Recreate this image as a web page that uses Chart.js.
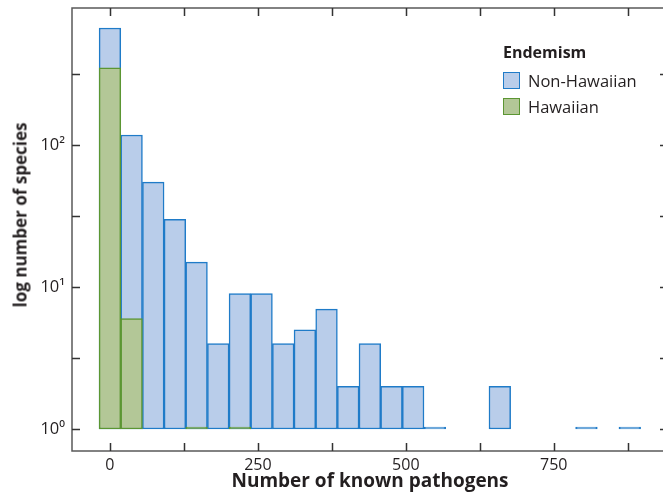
<!DOCTYPE html>
<html>
<head>
<meta charset="utf-8">
<script src="https://cdn.jsdelivr.net/npm/chart.js@4/dist/chart.umd.min.js"></script>
<style>
  html, body { margin: 0; padding: 0; background: #fff; overflow: hidden; width: 663px; height: 498px; }
  #wrap { position: relative; width: 663px; height: 498px; overflow: hidden; }
  canvas { position: absolute; left: 0; top: 0; }
  .lg { position: absolute; left: 503px; top: 41px; font-family: "Open Sans", sans-serif; color: #231f20; }
  .lg .t { font-weight: bold; font-size: 16px; line-height: 22px; margin-bottom: 4px; }
  .lg .row { display: flex; align-items: center; height: 26px; font-size: 16.5px; }
  .lg .sw { width: 15px; height: 15px; margin-right: 8px; box-sizing: content-box; }
  .ytitle { position: absolute; left: 20px; top: 215px; transform: translate(-50%, -50%) rotate(-90deg);
            font-family: "Open Sans", sans-serif; font-weight: bold; font-size: 17px; color: #231f20; white-space: nowrap; }
</style>
</head>
<body>
<div id="wrap">
  <canvas id="c" width="670" height="498"></canvas>
  <div class="ytitle" id="ytitle"></div>
  <div class="lg" id="legend"></div>
</div>
<script>
// ---- data ----
const binCenters      = [0, 36.6, 73.2, 109.8, 146.4, 183.0, 219.6, 256.2, 292.8, 329.4, 366.0, 402.6, 439.2, 475.8, 512.4, 549.0, 658.8, 805.2, 878.4];
const nonHawaiianCounts = [670, 118, 55, 30, 15, 4, 9, 9, 4, 5, 7, 2, 4, 2, 2, 1, 2, 1, 1];
const hawaiianCenters = [0, 36.6, 146.4, 219.6];
const hawaiianCounts  = [351, 6, 1, 1];
const seriesNames     = ["Non-Hawaiian", "Hawaiian"];
const legendTitle     = "Endemism";
const xTickValues     = [0, 250, 500, 750];
const xTickMarks      = [0, 125, 250, 375, 500, 625, 750, 875];
const yTickValues     = [1, 10, 100];
const yTickLabels     = ["10\u2070", "10\u00B9", "10\u00B2"];
const yTickMarks      = [1, 3.1623, 10, 31.623, 100, 316.23];
const xTitle          = "Number of known pathogens";
const yTitle          = "log number of species";

const blueFill = "#b9cdea", blueLine = "#1f7bc8";
const greenFill = "#b3c797", greenLine = "#5b9632";

const toPts = (xs, ys) => xs.map((x, i) => ({ x: x, y: [1, ys[i]] }));

const framePlugin = {
  id: "frame",
  afterDatasetsDraw(chart) {
    const { ctx, chartArea: a, scales } = chart;
    ctx.save();
    ctx.strokeStyle = "#595959";
    ctx.lineWidth = 1.5;
    ctx.beginPath();
    ctx.rect(a.left, a.top, a.right - a.left, a.bottom - a.top);
    ctx.stroke();
    ctx.strokeStyle = "#333";
    ctx.lineWidth = 1.5;
    const L = 8;
    ctx.beginPath();
    xTickMarks.forEach(v => {
      const p = Math.round(scales.x.getPixelForValue(v)) + 0.5;
      ctx.moveTo(p, a.bottom); ctx.lineTo(p, a.bottom - L);
      ctx.moveTo(p, a.top); ctx.lineTo(p, a.top + L);
    });
    yTickMarks.forEach(v => {
      const p = Math.round(scales.y.getPixelForValue(v)) + 0.5;
      ctx.moveTo(a.left, p); ctx.lineTo(a.left + L, p);
      ctx.moveTo(a.right, p); ctx.lineTo(a.right - L, p);
    });
    ctx.stroke();
    ctx.restore();
  }
};

new Chart(document.getElementById("c"), {
  type: "bar",
  data: {
    datasets: [
      { label: seriesNames[0], data: toPts(binCenters, nonHawaiianCounts), backgroundColor: blueFill, borderColor: blueLine, order: 1 },
      { label: seriesNames[1], data: toPts(hawaiianCenters, hawaiianCounts), backgroundColor: greenFill, borderColor: greenLine, order: 0 }
    ]
  },
  options: {
    responsive: false,
    animation: false,
    events: [],
    layout: { padding: { left: 0, right: 2, top: 0, bottom: 0 } },
    datasets: { bar: { barPercentage: 1, categoryPercentage: 1, grouped: false, borderWidth: 1.5, borderSkipped: false, minBarLength: 2 } },
    plugins: { legend: { display: false }, tooltip: { enabled: false } },
    scales: {
      x: {
        type: "linear",
        offset: false,
        min: -64.1, max: 943,
        grid: { display: false, drawTicks: false, offset: false },
        border: { display: false },
        afterBuildTicks: s => { s.ticks = xTickValues.map(v => ({ value: v })); },
        afterFit: s => { s.height = 47; },
        ticks: { padding: 5, color: "#231f20", font: { family: "Open Sans", size: 16 }, maxRotation: 0, callback: v => String(v) },
        title: { display: true, text: xTitle, color: "#231f20", font: { family: "Open Sans", size: 19, weight: "bold" }, padding: { top: 0, bottom: 5 } }
      },
      y: {
        type: "logarithmic",
        min: 0.7225, max: 927,
        grid: { display: false, drawTicks: false },
        border: { display: false },
        afterBuildTicks: s => { s.ticks = yTickValues.map(v => ({ value: v })); },
        afterFit: s => { s.width = 72; s.paddingTop = 8; s.paddingBottom = 0; },
        ticks: { padding: 7, color: "#231f20", font: { family: "Open Sans", size: 16.5 },
                 callback: function (v) { const i = yTickValues.indexOf(v); return i >= 0 ? yTickLabels[i] : ""; } }
      }
    }
  },
  plugins: [framePlugin]
});

document.getElementById("ytitle").textContent = yTitle;
const lg = document.getElementById("legend");
lg.innerHTML = '<div class="t"></div>';
lg.querySelector(".t").textContent = legendTitle;
[[blueFill, blueLine], [greenFill, greenLine]].forEach((c, i) => {
  const r = document.createElement("div"); r.className = "row";
  const sw = document.createElement("div"); sw.className = "sw";
  sw.style.background = c[0]; sw.style.border = "1.5px solid " + c[1];
  const t = document.createElement("span"); t.textContent = seriesNames[i];
  r.appendChild(sw); r.appendChild(t); lg.appendChild(r);
});
</script>
</body>
</html>
